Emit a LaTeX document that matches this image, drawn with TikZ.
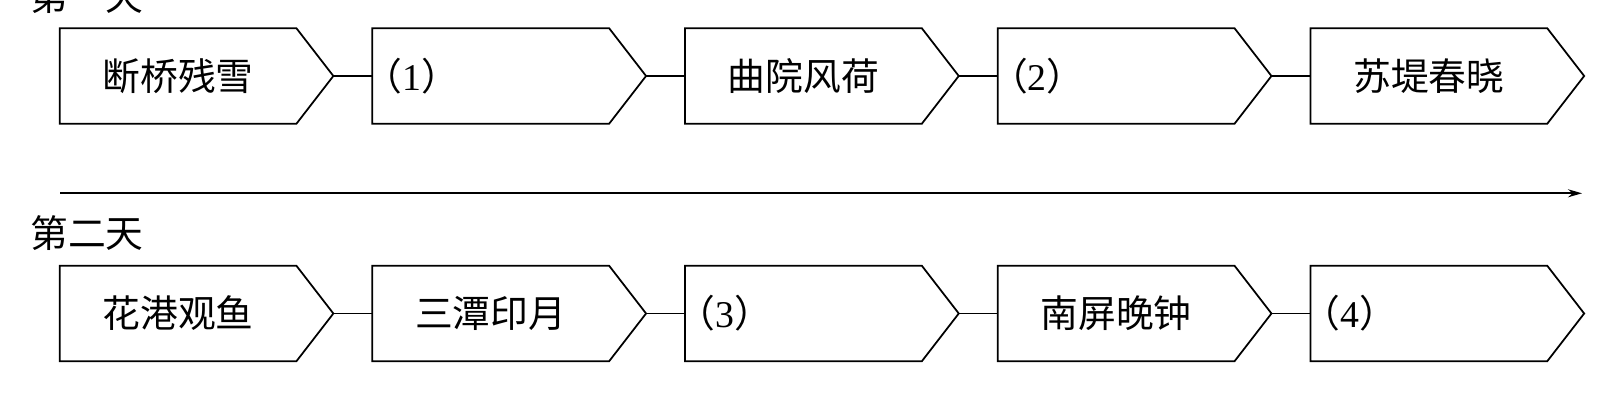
\documentclass[tikz,border=0pt]{standalone}
\usepackage{fontspec}
\setmainfont{Liberation Serif}
\newfontfamily\cjk{Noto Sans CJK SC}
\usepackage{tikz}
\usetikzlibrary{arrows.meta,positioning,calc}

\newcommand{\fillin}[1]{\hspace*{-0.16cm}{\cjk （}{\rmfamily #1}{\cjk ）}}

\begin{document}
\begin{tikzpicture}[
    node distance=1.52cm,
    outline/.style={line width=1pt},
    spot/.style={minimum width=4.72cm, minimum height=1.9cm, inner sep=0pt,
                 font=\cjk\fontsize{21.5}{24}\selectfont},
    gapbox/.style={spot, text width=4.72cm, inner xsep=0pt, align=left},
    daylabel/.style={anchor=west, inner sep=0pt, font=\cjk\fontsize{21.5}{24}\selectfont}
]
\useasboundingbox (0,0) rectangle (32.38,8);

% Day one
\node[daylabel] (d1) at (0.6,8.07) {第一天};
\node[spot] (a1) at (3.56,6.48) {断桥残雪};
\node[gapbox, right=of a1] (a2) {\fillin{1}};
\node[spot, right=of a2] (a3) {曲院风荷};
\node[gapbox, right=of a3] (a4) {\fillin{2}};
\node[spot, right=of a4] (a5) {苏堤春晓};

% Day two
\node[daylabel] (d2) at (0.6,3.33) {第二天};
\node[spot] (b1) at (3.56,1.73) {花港观鱼};
\node[spot, right=of b1] (b2) {三潭印月};
\node[gapbox, right=of b2] (b3) {\fillin{3}};
\node[spot, right=of b3] (b4) {南屏晚钟};
\node[gapbox, right=of b4] (b5) {\fillin{4}};

% Pointed outlines
\draw[outline] (a1.north west) -- (a1.north east) -- ($(a1.east)+(0.74,0)$) coordinate (a1tip) -- (a1.south east) -- (a1.south west) -- cycle;
\draw[outline] (a2.north west) -- (a2.north east) -- ($(a2.east)+(0.74,0)$) coordinate (a2tip) -- (a2.south east) -- (a2.south west) -- cycle;
\draw[outline] (a3.north west) -- (a3.north east) -- ($(a3.east)+(0.74,0)$) coordinate (a3tip) -- (a3.south east) -- (a3.south west) -- cycle;
\draw[outline] (a4.north west) -- (a4.north east) -- ($(a4.east)+(0.74,0)$) coordinate (a4tip) -- (a4.south east) -- (a4.south west) -- cycle;
\draw[outline] (a5.north west) -- (a5.north east) -- ($(a5.east)+(0.74,0)$) coordinate (a5tip) -- (a5.south east) -- (a5.south west) -- cycle;
\draw[outline] (b1.north west) -- (b1.north east) -- ($(b1.east)+(0.74,0)$) coordinate (b1tip) -- (b1.south east) -- (b1.south west) -- cycle;
\draw[outline] (b2.north west) -- (b2.north east) -- ($(b2.east)+(0.74,0)$) coordinate (b2tip) -- (b2.south east) -- (b2.south west) -- cycle;
\draw[outline] (b3.north west) -- (b3.north east) -- ($(b3.east)+(0.74,0)$) coordinate (b3tip) -- (b3.south east) -- (b3.south west) -- cycle;
\draw[outline] (b4.north west) -- (b4.north east) -- ($(b4.east)+(0.74,0)$) coordinate (b4tip) -- (b4.south east) -- (b4.south west) -- cycle;
\draw[outline] (b5.north west) -- (b5.north east) -- ($(b5.east)+(0.74,0)$) coordinate (b5tip) -- (b5.south east) -- (b5.south west) -- cycle;

% Links
\draw[outline] (a1tip) -- (a2.west);
\draw[outline] (a2tip) -- (a3.west);
\draw[outline] (a3tip) -- (a4.west);
\draw[outline] (a4tip) -- (a5.west);
\draw[outline] (b1tip) -- (b2.west);
\draw[outline] (b2tip) -- (b3.west);
\draw[outline] (b3tip) -- (b4.west);
\draw[outline] (b4tip) -- (b5.west);

% Time axis
\coordinate (axstart) at (1.2,4.134);
\coordinate (axend) at (31.64,4.134);
\draw[outline, -{Stealth[length=2.8mm, width=1.6mm]}] (axstart) -- (axend);

\end{tikzpicture}
\end{document}
